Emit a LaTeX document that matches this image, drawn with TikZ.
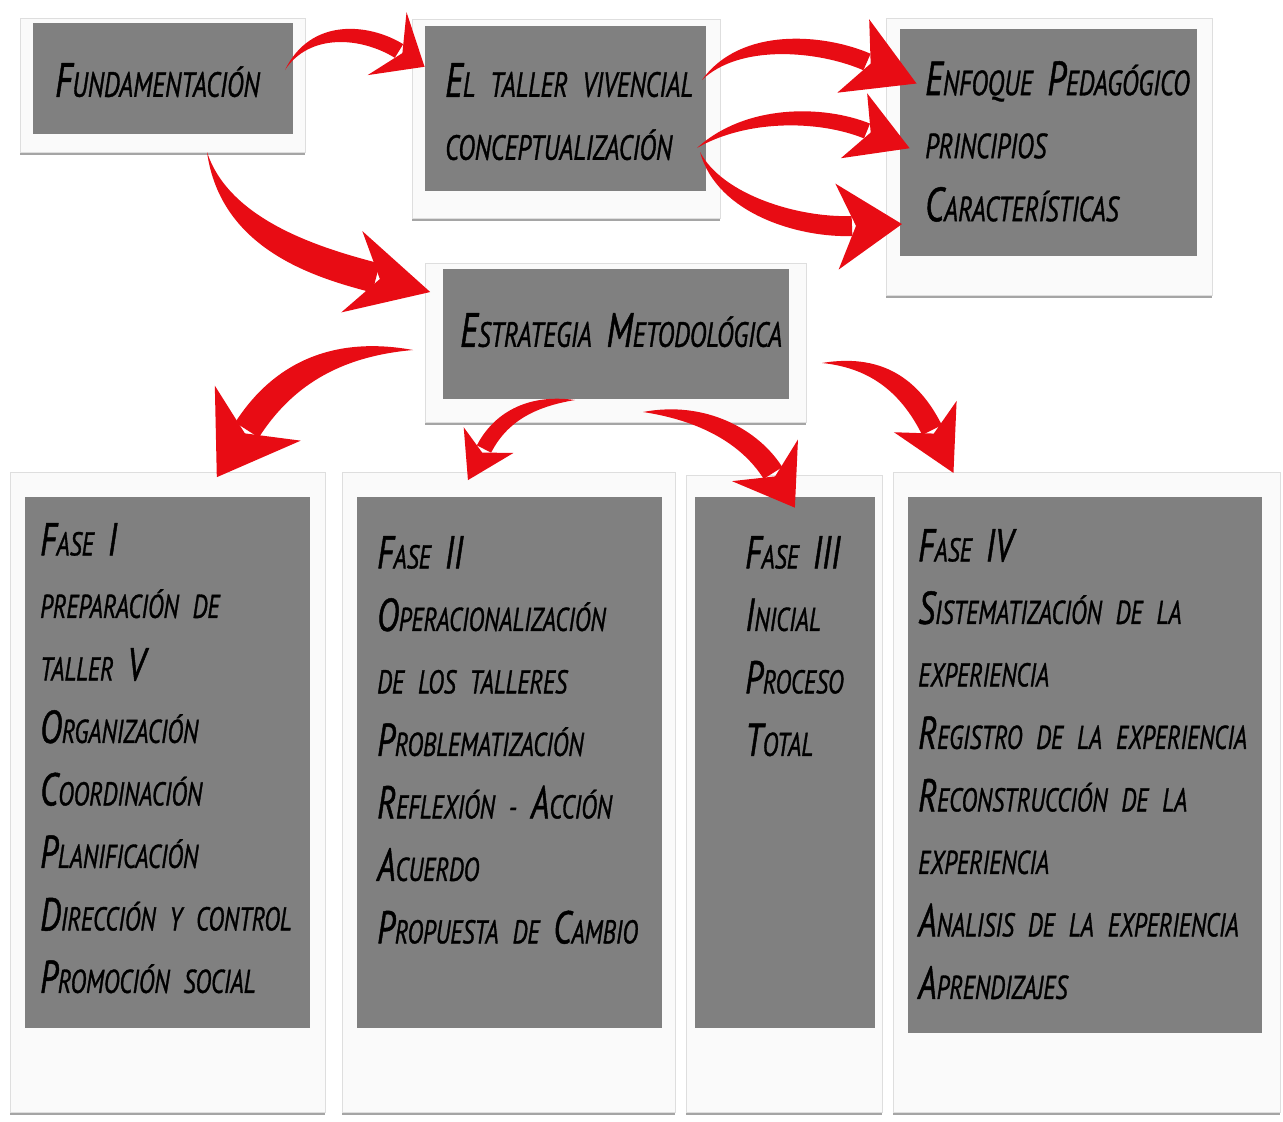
\documentclass[tikz,border=0pt]{standalone}
\usepackage{fontspec}
\newfontfamily\hand[FakeStretch=0.72, FakeBold=1, WordSpace=2.2]{PT Sans}
\usetikzlibrary{calc,shadows}
\definecolor{brushred}{RGB}{232,12,20}
\definecolor{panelgray}{RGB}{128,128,128}
\definecolor{framefill}{RGB}{250,250,250}
\definecolor{frameedge}{RGB}{222,222,222}
\newcommand\Kb[1]{{\fontsize{46pt}{62.5pt}\selectfont #1}}
\newcommand\Kt[1]{{\fontsize{48pt}{63pt}\selectfont #1}}
% brush arrow: start, control1, control2, body end, half width, tip length, barb back, barb half span
\newcommand\brush[8]{%
  \fill[brushred] (#1) .. controls ($(#2)!#5!-90:(#3)$) and ($(#3)!#5!-90:(#4)$) .. ($(#4)!#5!90:(#3)$)
    -- ($(#4)!#5!-90:(#3)$) .. controls ($(#3)!#5!90:(#4)$) and ($(#2)!#5!90:(#3)$) .. (#1) -- cycle;
  \fill[brushred] ($(#4)!-#6!(#3)$) -- ($($(#4)!#7!(#3)$)!#8!90:(#3)$)
    -- ($(#4)!-4pt!(#3)$) -- ($($(#4)!#7!(#3)$)!#8!-90:(#3)$) -- cycle;
}
\tikzset{
  frame/.style={draw=frameedge, fill=framefill, line width=0.8pt, inner sep=0pt, anchor=north west,
    drop shadow={shadow xshift=0pt, shadow yshift=-3pt, opacity=0.5, fill=black!70}},
  panel/.style={fill=panelgray, draw=none, inner sep=0pt, anchor=north west},
  lbl/.style={anchor=north west, inner sep=0pt, align=left, text=black},
  topfont/.style={font=\hand\itshape\fontsize{35pt}{63pt}\selectfont},
  botfont/.style={font=\hand\itshape\fontsize{33pt}{62.5pt}\selectfont},
}
\begin{document}
\begin{tikzpicture}[x=1pt,y=-1pt]
\useasboundingbox (0,0) rectangle (1283,1122);
\fill[white] (0,0) rectangle (1283,1122);

% frames
\node[frame, minimum width=285pt, minimum height=134pt] (fundF) at (20,18) {};
\node[frame, minimum width=308pt, minimum height=199pt] (tallF) at (412,19) {};
\node[frame, minimum width=326pt, minimum height=277pt] (enfF) at (886,18) {};
\node[frame, minimum width=381pt, minimum height=159pt] (estF) at (425,263) {};
\node[frame, minimum width=315pt, minimum height=640pt] (f1F) at (10,472) {};
\node[frame, minimum width=333pt, minimum height=640pt] (f2F) at (342,472) {};
\node[frame, minimum width=196pt, minimum height=637pt] (f3F) at (686,475) {};
\node[frame, minimum width=387pt, minimum height=640pt] (f4F) at (893,472) {};

% gray panels
\node[panel, minimum width=260pt, minimum height=111pt] (fundP) at (33,23) {};
\node[panel, minimum width=281pt, minimum height=165pt] (tallP) at (425,26) {};
\node[panel, minimum width=297pt, minimum height=227pt] (enfP) at (900,29) {};
\node[panel, minimum width=346pt, minimum height=130pt] (estP) at (443,269) {};
\node[panel, minimum width=285pt, minimum height=531pt] (f1P) at (25,497) {};
\node[panel, minimum width=305pt, minimum height=531pt] (f2P) at (357,497) {};
\node[panel, minimum width=180pt, minimum height=531pt] (f3P) at (695,497) {};
\node[panel, minimum width=354pt, minimum height=536pt] (f4P) at (908,497) {};

% texts
\node[lbl,topfont] (fundT) at (55,63) {\Kt{F}UNDAMENTACIÓN};
\node[lbl,topfont] (tallT) at (445,63) {\Kt{E}L TALLER VIVENCIAL\\CONCEPTUALIZACIÓN};
\node[lbl,topfont] (enfT) at (925,61) {\Kt{E}NFOQUE \Kt{P}EDAGÓGICO\\PRINCIPIOS\\\Kt{C}ARACTERÍSTICAS};
\node[lbl,topfont] (estT) at (460,313) {\Kt{E}STRATEGIA \Kt{M}ETODOLÓGICA};
\node[lbl,botfont] (f1T) at (40,523) {\Kb{F}ASE \Kb{I}\\PREPARACIÓN DE\\TALLER \Kb{V}\\\Kb{O}RGANIZACIÓN\\\Kb{C}OORDINACIÓN\\\Kb{P}LANIFICACIÓN\\\Kb{D}IRECCIÓN Y CONTROL\\\Kb{P}ROMOCIÓN SOCIAL};
\node[lbl,botfont] (f2T) at (377,536) {\Kb{F}ASE \Kb{II}\\\Kb{O}PERACIONALIZACIÓN\\DE LOS TALLERES\\\Kb{P}ROBLEMATIZACIÓN\\\Kb{R}EFLEXIÓN - \Kb{A}CCIÓN\\\Kb{A}CUERDO\\\Kb{P}ROPUESTA DE \Kb{C}AMBIO};
\node[lbl,botfont] (f3T) at (745,536) {\Kb{F}ASE \Kb{III}\\\Kb{I}NICIAL\\\Kb{P}ROCESO\\\Kb{T}OTAL};
\node[lbl,botfont] (f4T) at (918,529) {\Kb{F}ASE \Kb{IV}\\\Kb{S}ISTEMATIZACIÓN DE LA\\EXPERIENCIA\\\Kb{R}EGISTRO DE LA EXPERIENCIA\\\Kb{R}ECONSTRUCCIÓN DE LA\\EXPERIENCIA\\\Kb{A}NALISIS DE LA EXPERIENCIA\\\Kb{A}PRENDIZAJES};

% arrow coordinates
\coordinate (a1s) at (285,70);  \coordinate (a1a) at (310,25);  \coordinate (a1b) at (365,30);  \coordinate (a1e) at (399,51);
\coordinate (a2s) at (207,152); \coordinate (a2a) at (225,235); \coordinate (a2b) at (318,263); \coordinate (a2e) at (376,278);
\coordinate (a3s) at (702,80);  \coordinate (a3a) at (740,35);  \coordinate (a3b) at (821,42);  \coordinate (a3e) at (867,62);
\coordinate (a4s) at (697,148); \coordinate (a4a) at (745,112); \coordinate (a4b) at (820,112); \coordinate (a4e) at (867,131);
\coordinate (a5s) at (700,152); \coordinate (a5a) at (720,205); \coordinate (a5b) at (800,228); \coordinate (a5e) at (852,226);
\coordinate (a6s) at (413,350); \coordinate (a6a) at (330,345); \coordinate (a6b) at (279,380); \coordinate (a6e) at (247,430);
\coordinate (a7s) at (575,400); \coordinate (a7a) at (530,400); \coordinate (a7b) at (500,418); \coordinate (a7e) at (484,449);
\coordinate (a8s) at (643,412); \coordinate (a8a) at (700,410); \coordinate (a8b) at (749,435); \coordinate (a8e) at (773,473);
\coordinate (a9s) at (822,363); \coordinate (a9a) at (880,360); \coordinate (a9b) at (912,390); \coordinate (a9e) at (932,430);

\brush{a1s}{a1a}{a1b}{a1e}{8pt}{30pt}{14pt}{37pt}
\brush{a2s}{a2a}{a2b}{a2e}{15pt}{56pt}{25pt}{42pt}
\brush{a3s}{a3a}{a3b}{a3e}{9pt}{54pt}{15pt}{40pt}
\brush{a4s}{a4a}{a4b}{a4e}{8pt}{46pt}{14pt}{35pt}
\brush{a5s}{a5a}{a5b}{a5e}{10pt}{50pt}{15pt}{43pt}
\brush{a6s}{a6a}{a6b}{a6e}{14pt}{56pt}{20pt}{51pt}
\brush{a7s}{a7a}{a7b}{a7e}{8pt}{35pt}{10pt}{28pt}
\brush{a8s}{a8a}{a8b}{a8e}{11pt}{41pt}{15pt}{39pt}
\brush{a9s}{a9a}{a9b}{a9e}{11pt}{48pt}{15pt}{35pt}
\end{tikzpicture}
\end{document}
